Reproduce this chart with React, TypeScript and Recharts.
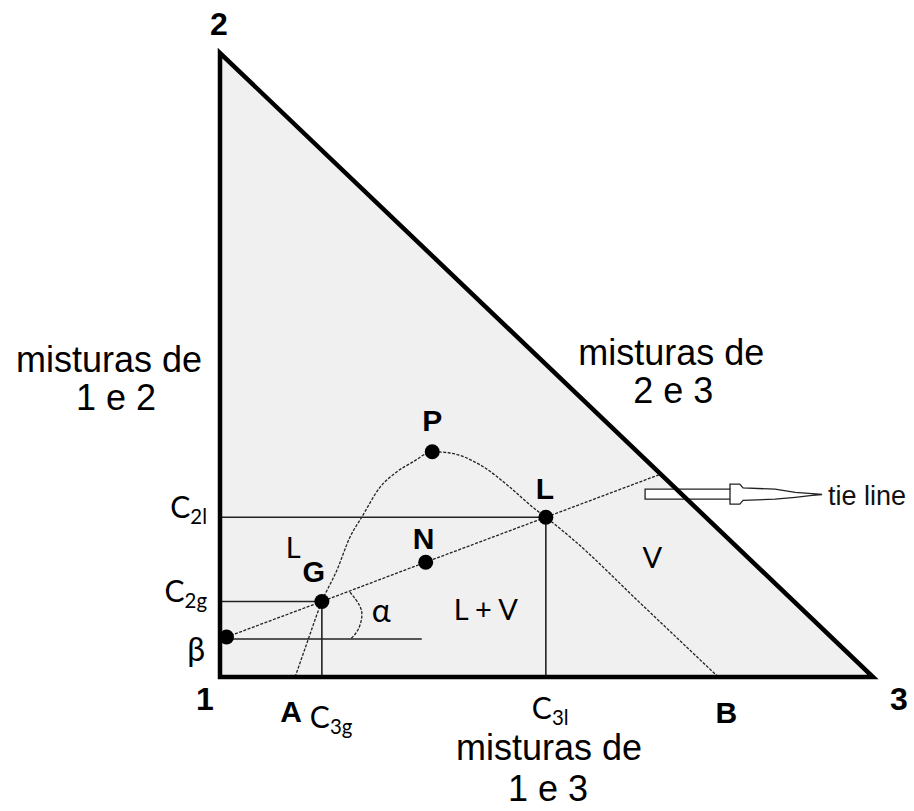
import React from "react";
import {
  Area,
  ComposedChart,
  Line,
  ReferenceArea,
  ReferenceDot,
  Scatter,
  XAxis,
  YAxis,
} from "recharts";

type Pt = { x: number; y: number };

// x = fraction of component 3, y = fraction of component 2 (component 1 is the rest)
const triangleFill: Pt[] = [
  { x: 0, y: 1 },
  { x: 1, y: 0 },
];
const triangleEdge: Pt[] = [
  { x: 0, y: 0 },
  { x: 0, y: 1 },
  { x: 1, y: 0 },
  { x: 0, y: 0 },
];

const pointBeta: Pt = { x: 0.01, y: 0.064 };
const pointG: Pt = { x: 0.156, y: 0.121 };
const pointN: Pt = { x: 0.315, y: 0.184 };
const pointL: Pt = { x: 0.499, y: 0.256 };
const pointP: Pt = { x: 0.325, y: 0.361 };
const tieEnd: Pt = { x: 0.672, y: 0.324 };
const pointA: Pt = { x: 0.115, y: 0 };
const pointB: Pt = { x: 0.763, y: 0 };

const c2l = pointL.y;
const c2g = pointG.y;
const c3g = pointG.x;
const c3l = pointL.x;
const betaLevel = 0.061;
const betaLineEnd = 0.309;

// two-phase envelope, A -> G -> P -> L -> B
const binodal: Pt[] = [
  pointA,
  { x: 0.133, y: 0.054 },
  pointG,
  { x: 0.179, y: 0.171 },
  { x: 0.199, y: 0.224 },
  { x: 0.217, y: 0.256 },
  { x: 0.245, y: 0.304 },
  { x: 0.271, y: 0.329 },
  { x: 0.296, y: 0.345 },
  pointP,
  { x: 0.352, y: 0.359 },
  { x: 0.403, y: 0.337 },
  { x: 0.444, y: 0.304 },
  { x: 0.479, y: 0.272 },
  pointL,
  { x: 0.541, y: 0.22 },
  { x: 0.643, y: 0.119 },
  pointB,
];

const tieLine: Pt[] = [pointBeta, pointG, pointN, pointL, tieEnd];
const markedPoints: Pt[] = [pointBeta, pointG, pointN, pointL, pointP];

const alphaArc: Pt[] = [
  { x: 0.199, y: 0.136 },
  { x: 0.214, y: 0.114 },
  { x: 0.217, y: 0.095 },
  { x: 0.211, y: 0.075 },
  { x: 0.2, y: betaLevel },
];

const c2lLine: Pt[] = [
  { x: 0, y: c2l },
  { x: c3l, y: c2l },
];
const c2gLine: Pt[] = [
  { x: 0, y: c2g },
  { x: c3g, y: c2g },
];
const betaLine: Pt[] = [
  { x: 0, y: betaLevel },
  { x: betaLineEnd, y: betaLevel },
];
const c3gLine: Pt[] = [
  { x: c3g, y: 0 },
  { x: c3g, y: c2g },
];
const c3lLine: Pt[] = [
  { x: c3l, y: 0 },
  { x: c3l, y: c2l },
];

// hollow arrow pointing at the "tie line" caption
const arrowBody = { x1: 0.651, x2: 0.781, y1: 0.285, y2: 0.301 };
const arrowHead: Pt[] = [
  { x: 0.781, y: 0.301 },
  { x: 0.781, y: 0.309 },
  { x: 0.796, y: 0.309 },
  { x: 0.801, y: 0.303 },
  { x: 0.85, y: 0.301 },
  { x: 0.881, y: 0.296 },
  { x: 0.907, y: 0.294 },
  { x: 0.922, y: 0.2925 },
  { x: 0.907, y: 0.291 },
  { x: 0.881, y: 0.288 },
  { x: 0.85, y: 0.285 },
  { x: 0.801, y: 0.283 },
  { x: 0.796, y: 0.277 },
  { x: 0.781, y: 0.277 },
  { x: 0.781, y: 0.285 },
];
const arrowTip: Pt = { x: 0.922, y: 0.2925 };

const regionL: Pt = { x: 0.112, y: 0.191 };
const regionLV: Pt = { x: 0.407, y: 0.091 };
const regionV: Pt = { x: 0.662, y: 0.175 };
const alphaSpot: Pt = { x: 0.247, y: 0.088 };
const side12: Pt = { x: -0.17, y: 0.489 };
const side23: Pt = { x: 0.691, y: 0.5 };
const side13: Pt = { x: 0.504, y: -0.128 };

const SANS = "'Liberation Sans', Arial, sans-serif";
const THIN = "Lato, 'Open Sans', sans-serif";

const bold = { fontFamily: SANS, fontWeight: 700, fill: "#000", textAnchor: "middle" as const };
const thin = { fontFamily: THIN, fill: "#000" };
const big = { fontFamily: SANS, fontSize: 36, fill: "#000", textAnchor: "middle" as const };

function tag(
  key: string,
  at: Pt,
  dx: number,
  dy: number,
  props: React.SVGProps<SVGTextElement>,
  body: React.ReactNode,
) {
  return (
    <ReferenceDot
      key={key}
      x={at.x}
      y={at.y}
      r={0}
      fill="none"
      stroke="none"
      ifOverflow="visible"
      label={(p: any) => {
        const vb = p?.viewBox ?? {};
        return (
          <text x={(vb.x ?? 0) + dx} y={(vb.y ?? 0) + dy} {...props}>
            {body}
          </text>
        );
      }}
    />
  );
}

// C with a lowered subscript, e.g. C_2l
function conc(sub: string, size: number) {
  return (
    <>
      <tspan>C</tspan>
      <tspan dy={6} fontSize={size * 0.68}>
        {sub}
      </tspan>
    </>
  );
}

const dashed = { stroke: "#222", strokeWidth: 1.3, strokeDasharray: "3 1.5" };
const solid = { stroke: "#222", strokeWidth: 1.6 };

export default function App() {
  return (
    <div
      style={{
        position: "absolute",
        left: 0,
        top: 0,
        width: 914,
        height: 811,
        background: "#fff",
      }}
    >
      <ComposedChart
        width={914}
        height={811}
        data={triangleFill}
        margin={{ top: 53, right: 41, bottom: 134, left: 220 }}
      >
        <XAxis type="number" dataKey="x" domain={[0, 1]} hide />
        <YAxis type="number" dataKey="y" domain={[0, 1]} hide />
        <Area
          type="linear"
          dataKey="y"
          stroke="none"
          fill="#f0f0f0"
          fillOpacity={1}
          isAnimationActive={false}
          activeDot={false}
        />
        <ReferenceArea
          {...arrowBody}
          fill="#fff"
          fillOpacity={1}
          stroke="#222"
          strokeWidth={1.3}
        />
        <Line data={c2lLine} dataKey="y" {...solid} dot={false} activeDot={false} isAnimationActive={false} />
        <Line data={c2gLine} dataKey="y" {...solid} dot={false} activeDot={false} isAnimationActive={false} />
        <Line data={betaLine} dataKey="y" {...solid} dot={false} activeDot={false} isAnimationActive={false} />
        <Line data={c3gLine} dataKey="y" {...solid} dot={false} activeDot={false} isAnimationActive={false} />
        <Line data={c3lLine} dataKey="y" {...solid} dot={false} activeDot={false} isAnimationActive={false} />
        <Line
          data={binodal}
          dataKey="y"
          type="monotone"
          {...dashed}
          dot={false}
          activeDot={false}
          isAnimationActive={false}
        />
        <Line data={tieLine} dataKey="y" {...dashed} dot={false} activeDot={false} isAnimationActive={false} />
        <Line
          data={alphaArc}
          dataKey="y"
          type="natural"
          {...dashed}
          dot={false}
          activeDot={false}
          isAnimationActive={false}
        />
        <Line
          data={arrowHead}
          dataKey="y"
          stroke="#222"
          strokeWidth={1.3}
          dot={false}
          activeDot={false}
          isAnimationActive={false}
        />
        <Line
          data={triangleEdge}
          dataKey="y"
          stroke="#000"
          strokeWidth={4.5}
          strokeLinejoin="miter"
          strokeLinecap="square"
          dot={false}
          activeDot={false}
          isAnimationActive={false}
        />
        <Scatter
          data={markedPoints}
          dataKey="y"
          isAnimationActive={false}
          shape={(p: any) => <circle cx={p.cx} cy={p.cy} r={7.5} fill="#000" />}
        />

        {tag("v1", { x: 0, y: 0 }, -15, 33, { ...bold, fontSize: 32 }, "1")}
        {tag("v2", { x: 0, y: 1 }, -1, -18, { ...bold, fontSize: 32 }, "2")}
        {tag("v3", { x: 1, y: 0 }, 26, 33, { ...bold, fontSize: 32 }, "3")}
        {tag("A", pointA, -4, 45, { ...bold, fontSize: 30 }, "A")}
        {tag("B", pointB, 8, 46, { ...bold, fontSize: 30 }, "B")}
        {tag("G", pointG, -8, -19, { ...bold, fontSize: 29 }, "G")}
        {tag("N", pointN, -2, -13, { ...bold, fontSize: 30 }, "N")}
        {tag("P", pointP, 0, -21, { ...bold, fontSize: 30 }, "P")}
        {tag("L", pointL, -1, -18, { ...bold, fontSize: 30 }, "L")}

        {tag("c3g", { x: c3g, y: 0 }, -12, 51, { ...thin, fontSize: 30 }, conc("3g", 30))}
        {tag("c3l", { x: c3l, y: 0 }, -14, 42, { ...thin, fontSize: 30 }, conc("3l", 30))}
        {tag("c2l", { x: 0, y: c2l }, -13, 1, { ...thin, fontSize: 30, textAnchor: "end" }, conc("2l", 30))}
        {tag("c2g", { x: 0, y: c2g }, -13, 1, { ...thin, fontSize: 30, textAnchor: "end" }, conc("2g", 30))}
        {tag("beta", { x: 0, y: betaLevel }, -15, 22, { ...thin, fontSize: 32, textAnchor: "end" }, "β")}
        {tag("alpha", alphaSpot, 0, 0, { ...thin, fontSize: 32, textAnchor: "middle" }, "α")}
        {tag("rL", regionL, 0, 0, { ...thin, fontSize: 29, textAnchor: "middle" }, "L")}
        {tag("rLV", regionLV, 0, 0, { ...thin, fontSize: 29, textAnchor: "middle" }, "L + V")}
        {tag("rV", regionV, 0, 0, { ...thin, fontSize: 29, textAnchor: "middle" }, "V")}
        {tag("tie", arrowTip, 6, 10.5, { fontFamily: SANS, fontSize: 27, fill: "#111" }, "tie line")}

        {tag("s12", side12, 0, 0, big, "misturas de")}
        {tag("s12b", side12, 7, 38, big, "1 e 2")}
        {tag("s23", side23, 0, 0, big, "misturas de")}
        {tag("s23b", side23, 2, 38, big, "2 e 3")}
        {tag("s13", side13, 0, 3, big, "misturas de")}
        {tag("s13b", side13, -1, 44, big, "1 e 3")}
      </ComposedChart>
    </div>
  );
}
